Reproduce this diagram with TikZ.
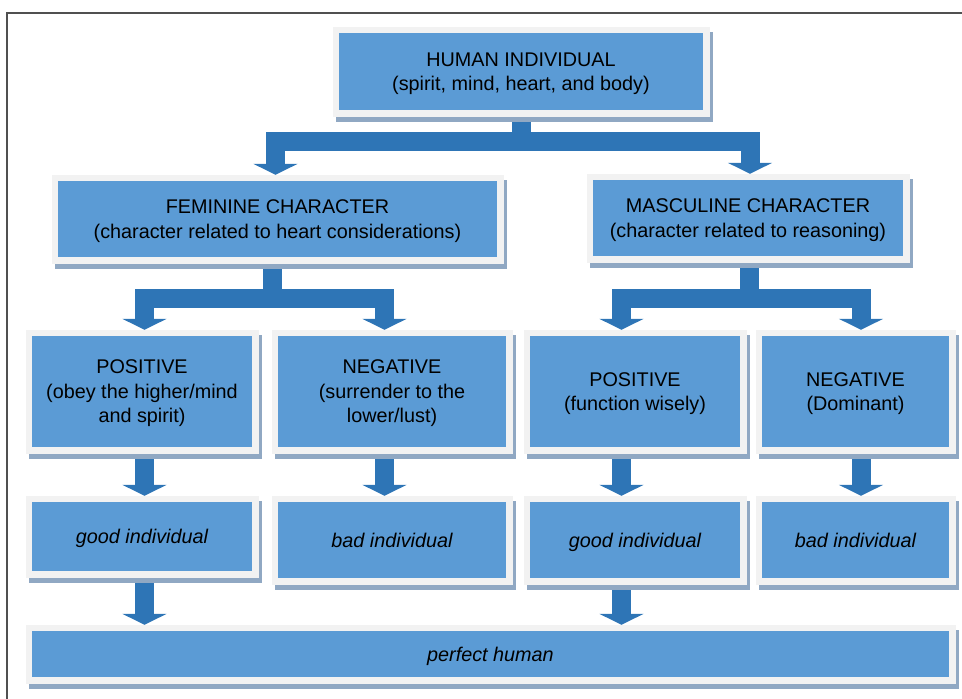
\documentclass[tikz,border=0pt]{standalone}
\usepackage{fontspec}
\setmainfont{Liberation Sans}
\usetikzlibrary{arrows.meta, backgrounds}

\definecolor{boxblue}{HTML}{5B9BD5}
\definecolor{arrowblue}{HTML}{2E75B6}
\definecolor{rimgray}{HTML}{F2F2F2}
\definecolor{shadegray}{HTML}{90A8C3}
\definecolor{linegray}{HTML}{505050}

\begin{document}
\begin{tikzpicture}[
    x=1pt, y=-1pt,
    card/.style={rectangle, inner sep=0pt, align=center, fill=boxblue,
        text depth=0pt, font={\fontsize{19.8}{24.5}\selectfont},
        preaction={draw=shadegray, fill=shadegray, line width=13pt,
            transform canvas={shift={(3.5pt,-5pt)}}},
        preaction={draw=rimgray, fill=rimgray, line width=13pt}},
    block/.style={draw=arrowblue, line width=19pt, line join=miter,
        -{Triangle[width=44pt, length=11pt]}}
]
\useasboundingbox (0,0) rectangle (962,699);

% Page frame
\draw[linegray, line width=1.3pt] (7,699) |- (962,13);

% Top level
\node[card, minimum width=364pt, minimum height=77pt] (human) at (521,71.5)
    {HUMAN INDIVIDUAL\\(spirit, mind, heart, and body)};

% Characters
\node[card, minimum width=439pt, minimum height=76pt] (fem) at (277.5,219)
    {FEMININE CHARACTER\\(character related to heart considerations)};
\node[card, minimum width=310pt, minimum height=76pt] (masc) at (748,218)
    {MASCULINE CHARACTER\\(character related to reasoning)};

% Positive / negative
\node[card, minimum width=220pt, minimum height=111pt] (posF) at (142,391.5)
    {POSITIVE\\(obey the higher/mind\\and spirit)};
\node[card, minimum width=228pt, minimum height=111pt] (negF) at (392,391.5)
    {NEGATIVE\\(surrender to the\\lower/lust)};
\node[card, minimum width=210pt, minimum height=111pt] (posM) at (635,391.5)
    {POSITIVE\\(function wisely)};
\node[card, minimum width=187pt, minimum height=111pt] (negM) at (855.5,391.5)
    {NEGATIVE\\(Dominant)};

% Outcomes
\node[card, minimum width=220pt, minimum height=69pt] (goodF) at (142,536.5)
    {\itshape good individual};
\node[card, minimum width=228pt, minimum height=76pt] (badF) at (392,540)
    {\itshape bad individual};
\node[card, minimum width=210pt, minimum height=76pt] (goodM) at (635,540)
    {\itshape good individual};
\node[card, minimum width=187pt, minimum height=76pt] (badM) at (855.5,540)
    {\itshape bad individual};

\node[card, minimum width=917pt, minimum height=46pt] (perfect) at (490.5,654)
    {\itshape perfect human};

% Block arrows
\begin{scope}[on background layer]
\draw[block] (human.south) -- ++(0,31) -| ([xshift=-2pt, yshift=6pt]fem.north);
\draw[block] (human.south) -- ++(0,31) -| ([xshift=2pt, yshift=6pt]masc.north);

\draw[block] ([xshift=-5pt]fem.south) -- ++(0,41) -| ([xshift=2.5pt, yshift=6pt]posF.north);
\draw[block] ([xshift=-5pt]fem.south) -- ++(0,41) -| ([xshift=-7.5pt, yshift=6pt]negF.north);
\draw[block] ([xshift=1pt]masc.south) -- ++(0,42) -| ([xshift=-13.5pt, yshift=6pt]posM.north);
\draw[block] ([xshift=1pt]masc.south) -- ++(0,42) -| ([xshift=5.5pt, yshift=6pt]negM.north);

\draw[block] ([xshift=2.5pt]posF.south) -- ([xshift=2.5pt, yshift=6pt]goodF.north);
\draw[block] ([xshift=-7.5pt]negF.south) -- ([xshift=-7.5pt, yshift=6pt]badF.north);
\draw[block] ([xshift=-13.5pt]posM.south) -- ([xshift=-13.5pt, yshift=6pt]goodM.north);
\draw[block] ([xshift=5.5pt]negM.south) -- ([xshift=5.5pt, yshift=6pt]badM.north);

\draw[block] ([xshift=2.5pt]goodF.south) -- ([xshift=2.5pt, yshift=6pt]goodF.south |- perfect.north);
\draw[block] ([xshift=-13.5pt]goodM.south) -- ([xshift=-13.5pt, yshift=6pt]goodM.south |- perfect.north);
\end{scope}

\end{tikzpicture}
\end{document}
